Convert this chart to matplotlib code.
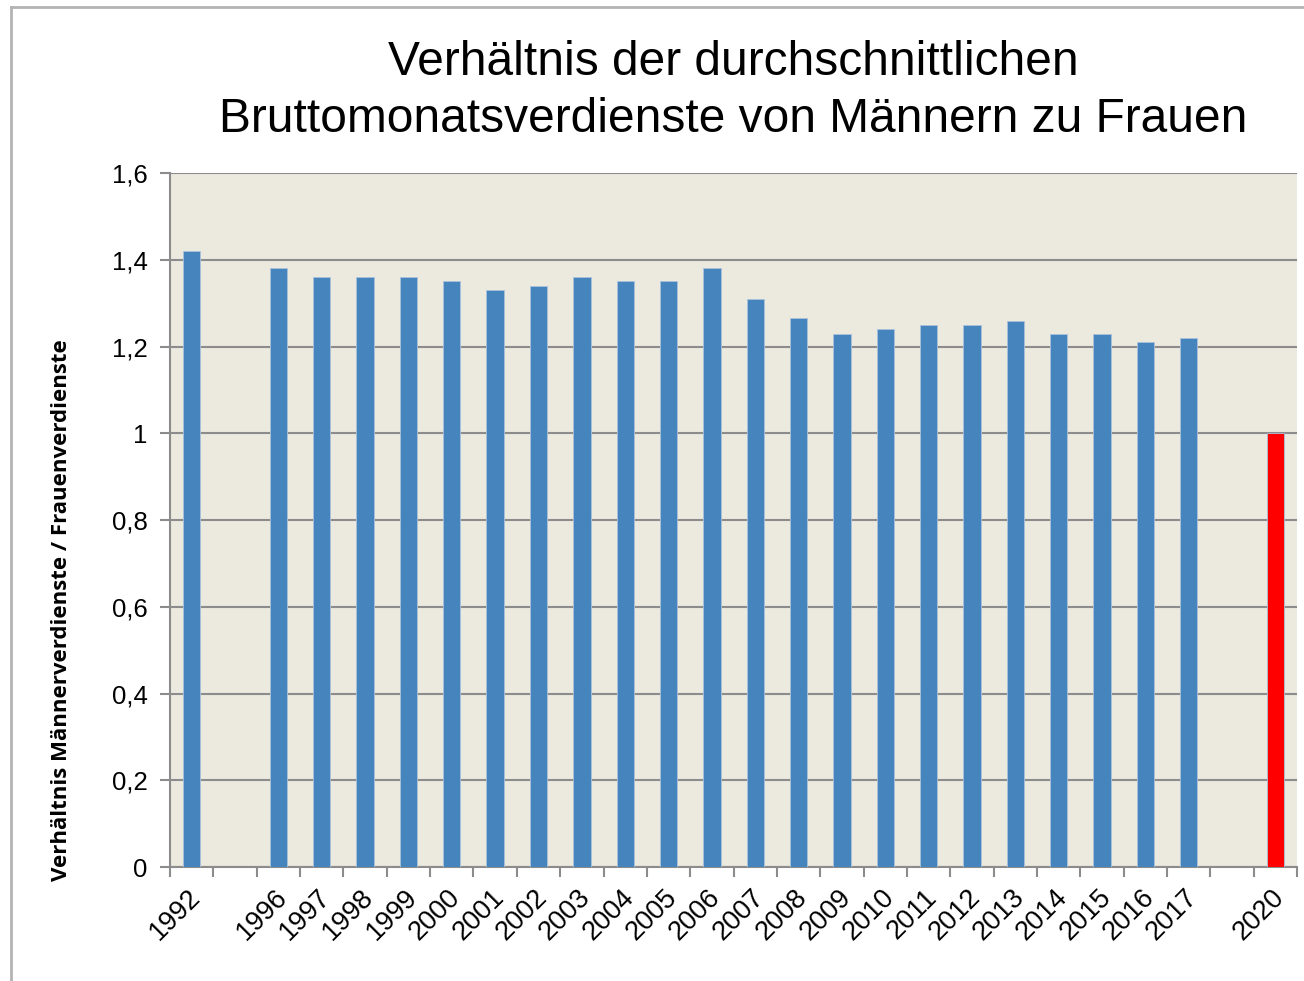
import numpy as np
import matplotlib
matplotlib.use("Agg")
import matplotlib.pyplot as plt
from matplotlib.lines import Line2D

# Jahre (leere Einträge = Lücken in der Kategorienachse)
jahre = ["1992", "", "1996", "1997", "1998", "1999", "2000", "2001", "2002",
         "2003", "2004", "2005", "2006", "2007", "2008", "2009", "2010",
         "2011", "2012", "2013", "2014", "2015", "2016", "2017", "", "2020"]
verhaeltnis = [1.42, np.nan, 1.38, 1.36, 1.36, 1.36, 1.35, 1.33, 1.34,
               1.36, 1.35, 1.35, 1.38, 1.31, 1.265, 1.23, 1.24,
               1.25, 1.25, 1.26, 1.23, 1.23, 1.21, 1.22, np.nan, 1.0]
ziel_jahr = "2020"

y_ticks = [0, 0.2, 0.4, 0.6, 0.8, 1.0, 1.2, 1.4, 1.6]

blau = "#4584BD"
rot = "#FF0000"
grau = "#8C8C8C"

fig = plt.figure(figsize=(13.04, 9.81), dpi=100)
ax = fig.add_axes([0.1304, 0.1162, 0.8643, 0.7074])
ax.set_facecolor("#ECE9DF")

x = np.arange(len(jahre))
farben = [rot if j == ziel_jahr else blau for j in jahre]
ax.bar(x, verhaeltnis, width=0.4, color=farben, edgecolor="#A9C3DD",
       linewidth=0.6, zorder=3)

ax.set_xlim(-0.5, len(jahre) - 0.5)
ax.set_ylim(0, 1.6)

# Gitterlinien und Achsen
ax.set_yticks(y_ticks)
ax.set_yticklabels([f"{v:g}".replace(".", ",") for v in y_ticks],
                   fontsize=18.5, family="Liberation Sans")
ax.yaxis.grid(True, color=grau, linewidth=1.5, zorder=1)
ax.tick_params(axis="y", length=7, width=1.5, color=grau, pad=9)

ax.set_xticks(np.arange(len(jahre) + 1) - 0.5)
ax.set_xticklabels([])
ax.tick_params(axis="x", length=7, width=1.5, color=grau)
for xi, j in zip(x, jahre):
    if j:
        ax.text(xi - 0.1, -0.04, j, rotation=45, ha="right", va="top",
                rotation_mode="anchor", fontsize=19.5, family="Liberation Sans",
                transform=ax.transData, clip_on=False)

for s in ["top", "right"]:
    ax.spines[s].set_visible(False)
for s in ["left", "bottom"]:
    ax.spines[s].set_color(grau)
    ax.spines[s].set_linewidth(1.5)

fig.text(62 / 1304, 1 - 610 / 981,
         "Verhältnis Männerverdienste / Frauenverdienste",
         rotation=90, ha="center", va="center",
         fontsize=16, fontweight="bold", family="Open Sans")

fig.text(0.5625, 0.907,
         "Verhältnis der durchschnittlichen\nBruttomonatsverdienste von Männern zu Frauen",
         ha="center", va="center", fontsize=34.5, family="Liberation Sans",
         linespacing=1.33)

# Rahmen des Diagrammbereichs
fig.add_artist(Line2D([11 / 1304, 11 / 1304], [0, 1 - 7 / 981],
                      color="#B3B3B3", linewidth=2, transform=fig.transFigure))
fig.add_artist(Line2D([11 / 1304, 1], [1 - 7 / 981, 1 - 7 / 981],
                      color="#B3B3B3", linewidth=2, transform=fig.transFigure))

plt.savefig("out.png", dpi=100)
